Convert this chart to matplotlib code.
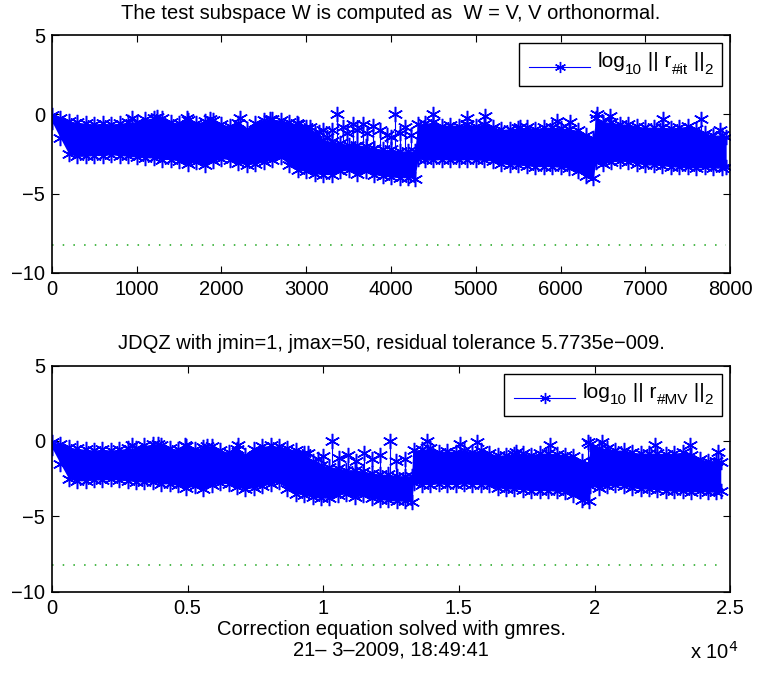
import numpy as np
import matplotlib
matplotlib.use("Agg")
import matplotlib.pyplot as plt
from matplotlib.lines import Line2D
from matplotlib.offsetbox import (AnchoredOffsetbox, DrawingArea, HPacker,
                                  TextArea, VPacker)
from matplotlib.ticker import FuncFormatter

plt.rcParams["font.family"] = ["Liberation Sans", "DejaVu Sans"]
plt.rcParams["font.size"] = 14.5

# residual band, sampled every ~100 iterations (upper / lower edge, log10)
iters = [0, 100, 200, 300, 400, 500, 600, 700, 800, 900,
         1000, 1100, 1200, 1300, 1400, 1500, 1600, 1700, 1800, 1900,
         2000, 2100, 2200, 2300, 2400, 2500, 2600, 2700, 2800, 2900,
         3000, 3100, 3200, 3300, 3400, 3500, 3600, 3700, 3800, 3900,
         4000, 4100, 4200, 4280, 4320, 4400, 4500, 4600, 4700, 4800,
         4900, 5000, 5100, 5200, 5300, 5400, 5500, 5600, 5700, 5800,
         5900, 6000, 6100, 6200, 6300, 6380, 6420, 6500, 6600, 6700,
         6800, 6900, 7000, 7100, 7200, 7300, 7400, 7500, 7600, 7700,
         7800, 7900, 7950]
mv_counts = [0, 310, 620, 930, 1240, 1550, 1860, 2170, 2480, 2790,
             3100, 3410, 3720, 4030, 4340, 4650, 4960, 5270, 5580, 5890,
             6200, 6510, 6820, 7130, 7440, 7750, 8060, 8370, 8680, 8990,
             9300, 9610, 9920, 10230, 10540, 10850, 11160, 11470, 11780, 12090,
             12400, 12710, 13020, 13270, 13330, 13640, 13950, 14260, 14570, 14880,
             15190, 15500, 15810, 16120, 16430, 16740, 17050, 17360, 17670, 17980,
             18290, 18600, 18910, 19220, 19530, 19780, 19850, 20150, 20460, 20770,
             21080, 21390, 21700, 22010, 22320, 22630, 22940, 23250, 23560, 23870,
             24180, 24490, 24650]
res_hi = [-0.05, -0.2, -0.4, -0.5, -0.55, -0.6, -0.55, -0.6, -0.55, -0.5,
          -0.45, -0.3, -0.2, -0.25, -0.45, -0.55, -0.35, -0.55, -0.4, -0.35,
          -0.6, -0.75, -0.55, -0.9, -0.55, -0.35, -0.3, -0.35, -0.5, -0.6,
          -0.8, -1.3, -1.6, -1.7, -1.8, -1.9, -1.9, -2.0, -2.1, -2.2,
          -2.2, -2.3, -2.3, -2.3, -0.6, -0.55, -0.5, -0.7, -0.65, -0.7,
          -0.6, -0.7, -0.6, -0.8, -0.95, -0.9, -0.85, -0.8, -0.9, -0.8,
          -0.8, -0.85, -0.9, -1.0, -1.3, -1.5, -0.2, -0.45, -0.5, -0.6,
          -0.6, -0.75, -0.8, -0.8, -0.8, -0.85, -0.8, -0.75, -0.9, -1.2,
          -1.3, -1.3, -1.4]
res_lo = [-0.45, -1.5, -2.5, -2.65, -2.65, -2.6, -2.6, -2.55, -2.6, -2.65,
          -2.7, -2.75, -2.75, -2.85, -2.85, -2.95, -3.1, -3.0, -3.2, -2.95,
          -2.8, -2.85, -3.05, -3.2, -3.1, -3.0, -2.85, -2.7, -3.2, -3.5,
          -3.6, -3.75, -3.8, -3.8, -3.6, -3.5, -3.75, -3.6, -3.8, -3.9,
          -3.95, -4.0, -4.0, -4.05, -2.8, -2.9, -2.9, -2.85, -2.9, -2.9,
          -2.85, -2.9, -2.9, -2.95, -3.1, -3.2, -3.2, -3.25, -3.3, -3.3,
          -3.3, -3.35, -3.4, -3.6, -3.9, -4.0, -3.0, -3.1, -3.0, -2.95,
          -3.0, -3.1, -3.2, -3.2, -3.25, -3.3, -3.35, -3.35, -3.4, -3.35,
          -3.4, -3.4, -3.3]

# isolated peaks sticking out of the band
spike_it = [940, 1240, 1590, 1860, 2220, 2570, 2890, 3040, 3100, 3150, 3200,
            3250, 3300, 3360, 3430, 3480, 3550, 3600, 3670, 3720, 3790,
            3870, 3950, 4000, 4050, 4100, 4170, 4230, 4500, 4900, 5110,
            5520, 5960, 6110, 6430, 6580, 7210, 7650, 7880]
spike_it_val = [-0.2, -0.15, -0.2, -0.3, -0.2, -0.3, -0.55, -0.8, -1.2, -1.1, -1.0,
                -1.4, -1.0, 0.05, -0.8, -1.2, -0.6, -1.0, -0.6, -1.2, -0.7,
                -1.0, -1.3, -1.4, 0.05, -1.2, -0.8, -1.3, 0.0, -0.2, -0.1,
                -0.8, -0.4, -0.5, 0.0, -0.1, -0.3, -0.3, -1.0]
spike_mv = [2950, 3910, 4900, 5710, 6860, 9450, 9800, 10000, 10320, 10600,
            10900, 11200, 11500, 11800, 12100, 12460, 12700, 13000, 13820, 15040,
            15670, 17100, 18360, 19760, 20280, 22230, 23520, 24560]
spike_mv_val = [-0.25, -0.2, -0.25, -0.35, -0.25, -0.8, -1.2, -1.0, 0.0, -1.1,
                -0.9, -1.3, -0.8, -1.2, -0.9, 0.0, -1.3, -1.2, 0.0, -0.2,
                -0.1, -0.7, -0.3, -0.1, -0.1, -0.3, -0.3, -0.7]

tol = 5.7735e-009
stamp = "21\u2013 3\u20132009, 18:49:41"

STAR = (6, 2, 0)  # asterisk like matlab '*'


def main_txt(t):
    # normal size text, lifted so the small pieces hang below it
    return VPacker(children=[TextArea(t, textprops=dict(size=15)),
                             DrawingArea(0, 4)], sep=0, pad=0)


def sub_txt(t):
    return TextArea(t, textprops=dict(size=11))


def matlab_legend(ax, sub):
    da = DrawingArea(46, 16)
    da.add_artist(Line2D([1, 23, 45], [7, 7, 7], color="b", lw=0.8,
                         marker=STAR, ms=8, mew=1, markevery=[1]))
    row = HPacker(children=[da, TextArea(" "), main_txt("log"), sub_txt("10"),
                            main_txt(" || r"), sub_txt(sub),
                            main_txt(" ||"), sub_txt("2")],
                  align="bottom", sep=0, pad=0)
    box = AnchoredOffsetbox(loc="upper right", child=row, pad=0.45,
                            borderpad=0.4, frameon=True)
    box.patch.set_boxstyle("square,pad=0")
    box.patch.set_edgecolor("k")
    box.patch.set_linewidth(1.0)
    ax.add_artist(box)


def draw_residuals(ax, x, sx, sy, x_end):
    x = np.array(x)
    hi = np.array(res_hi)
    lo = np.array(res_lo)
    ax.fill_between(x, lo, hi, color="b", linewidth=0)
    zx = np.repeat(x, 2)
    zy = np.column_stack([hi, lo]).ravel()
    ax.plot(zx, zy, "b-", lw=0.6, marker=STAR, ms=11, mew=1.1)
    base = np.interp(sx, x, hi)
    ax.vlines(sx, base, sy, colors="b", lw=0.8)
    ax.plot(sx, sy, "b", ls="none", marker=STAR, ms=11, mew=1.1)
    t = np.log10(tol)
    ax.plot([0, x_end], [t, t], color=(0.1, 0.65, 0.1), lw=1.1, ls=(0, (1, 6)))
    ax.set_ylim(-10, 5)
    ax.set_yticks([-10, -5, 0, 5])
    ax.tick_params(direction="in", top=True, right=True, length=5, width=0.8,
                   pad=5)
    for s in ax.spines.values():
        s.set_linewidth(1.2)


fig = plt.figure(figsize=(7.63, 6.77), dpi=100)

ax1 = fig.add_axes([0.068, 0.597, 0.889, 0.351])
draw_residuals(ax1, iters, spike_it, spike_it_val, 7950)
matlab_legend(ax1, "#it")
ax1.set_xlim(0, 8000)
ax1.set_xticks(range(0, 8001, 1000))
ax1.set_title("The test subspace W is computed as  W = V, V orthonormal.",
              fontsize=14.5, pad=12)

ax2 = fig.add_axes([0.068, 0.126, 0.889, 0.334])
draw_residuals(ax2, mv_counts, spike_mv, spike_mv_val, 24700)
matlab_legend(ax2, "#MV")
ax2.set_xlim(0, 25000)
ax2.set_xticks([0, 5000, 10000, 15000, 20000, 25000])
ax2.xaxis.set_major_formatter(FuncFormatter(lambda v, p: "%g" % (v / 1e4)))
ax2.set_title("JDQZ with jmin=1, jmax=50, residual tolerance 5.7735e\u2212009.",
              fontsize=14.5, pad=12)
ax2.set_xlabel("Correction equation solved with gmres.\n" + stamp, labelpad=2,
               linespacing=1.05)
ax2.text(0.941, -0.265, r"x 10$^4$", transform=ax2.transAxes, ha="left", va="center")

fig.savefig("out.png", dpi=100)
